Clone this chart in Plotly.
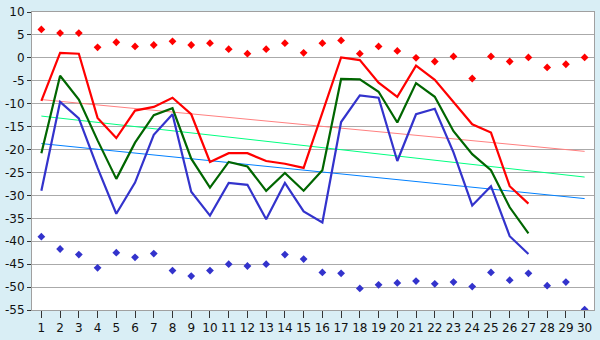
import plotly.graph_objects as go

days = list(range(1, 31))
line_x = list(range(1, 28))

red_points = [6.2, 5.4, 5.4, 2.3, 3.4, 2.5, 2.8, 3.6, 2.8, 3.2, 1.9, 0.9, 1.9, 3.2, 1.1,
              3.2, 3.8, 0.9, 2.5, 1.5, 0.0, -0.8, 0.3, -4.5, 0.3, -0.8, 0.1, -2.1, -1.4, 0.1]
blue_points = [-39.0, -41.7, -42.9, -45.8, -42.5, -43.5, -42.7, -46.4, -47.6, -46.4, -45.0,
               -45.4, -45.0, -42.9, -43.9, -46.8, -47.0, -50.3, -49.5, -49.1, -48.7, -49.3,
               -48.9, -49.9, -46.8, -48.5, -47.0, -49.7, -48.9, -54.9]

red_line = [-9.4, 1.1, 0.9, -13.1, -17.5, -11.5, -10.7, -8.7, -12.3, -22.7, -20.8, -20.8,
            -22.5, -23.1, -24.0, -12.0, 0.1, -0.5, -5.4, -8.5, -1.7, -4.8, -9.6, -14.5,
            -16.3, -28.0, -31.8]
green_line = [-20.8, -3.9, -9.1, -18.0, -26.4, -18.5, -12.5, -11.0, -22.0, -28.3, -22.7,
              -23.7, -29.0, -25.1, -29.0, -24.5, -4.6, -4.7, -7.4, -14.1, -5.5, -8.5,
              -16.0, -21.0, -24.5, -32.6, -38.3]
blue_line = [-29.0, -9.6, -13.2, -24.0, -34.0, -27.2, -16.8, -12.3, -29.2, -34.4, -27.3,
             -27.7, -35.2, -27.3, -33.5, -35.9, -14.0, -8.2, -8.7, -22.5, -12.3, -11.1,
             -20.6, -32.2, -28.0, -38.9, -42.8]

trend_x = [1, 30]
red_trend = [-9.1, -20.4]
green_trend = [-12.7, -26.0]
blue_trend = [-18.7, -30.7]

y_ticks = list(range(-55, 11, 5))

fig = go.Figure()
fig.add_trace(go.Scatter(x=trend_x, y=red_trend, mode="lines",
                         line=dict(color="#ff8080", width=1)))
fig.add_trace(go.Scatter(x=trend_x, y=green_trend, mode="lines",
                         line=dict(color="#00ff80", width=1)))
fig.add_trace(go.Scatter(x=trend_x, y=blue_trend, mode="lines",
                         line=dict(color="#0080ff", width=1)))
fig.add_trace(go.Scatter(x=line_x, y=red_line, mode="lines",
                         line=dict(color="#ff0000", width=2.2)))
fig.add_trace(go.Scatter(x=line_x, y=green_line, mode="lines",
                         line=dict(color="#006600", width=2.2)))
fig.add_trace(go.Scatter(x=line_x, y=blue_line, mode="lines",
                         line=dict(color="#3333cc", width=2.2)))
fig.add_trace(go.Scatter(x=days, y=red_points, mode="markers",
                         marker=dict(symbol="diamond", size=6, color="#ff0000")))
fig.add_trace(go.Scatter(x=days, y=blue_points, mode="markers",
                         marker=dict(symbol="diamond", size=6, color="#3333cc")))

fig.update_layout(
    width=600, height=340,
    margin=dict(l=27, r=5, t=5, b=20),
    paper_bgcolor="#d9eef5",
    plot_bgcolor="#ffffff",
    showlegend=False,
    font=dict(family="DejaVu Sans", size=12, color="#111111"),
)
fig.update_xaxes(
    range=[0.5, 30.5], tickvals=days, ticktext=[str(d) for d in days],
    showgrid=False, zeroline=False,
    showline=True, linecolor="#a0a0a0", linewidth=1, mirror=True,
    ticks="outside", ticklen=7, tickcolor="#333333", tickfont=dict(size=12),
    ticklabeloverflow="allow",
)
fig.update_yaxes(
    range=[-55, 10], tickvals=y_ticks, ticktext=[str(v) for v in y_ticks],
    showgrid=True, gridcolor="#aaaaaa", gridwidth=1, zeroline=False,
    showline=True, linecolor="#a0a0a0", linewidth=1, mirror=True,
    ticks="outside", ticklen=4, tickcolor="#333333", tickfont=dict(size=12),
    ticklabeloverflow="allow",
)

fig.write_html("out.html")
